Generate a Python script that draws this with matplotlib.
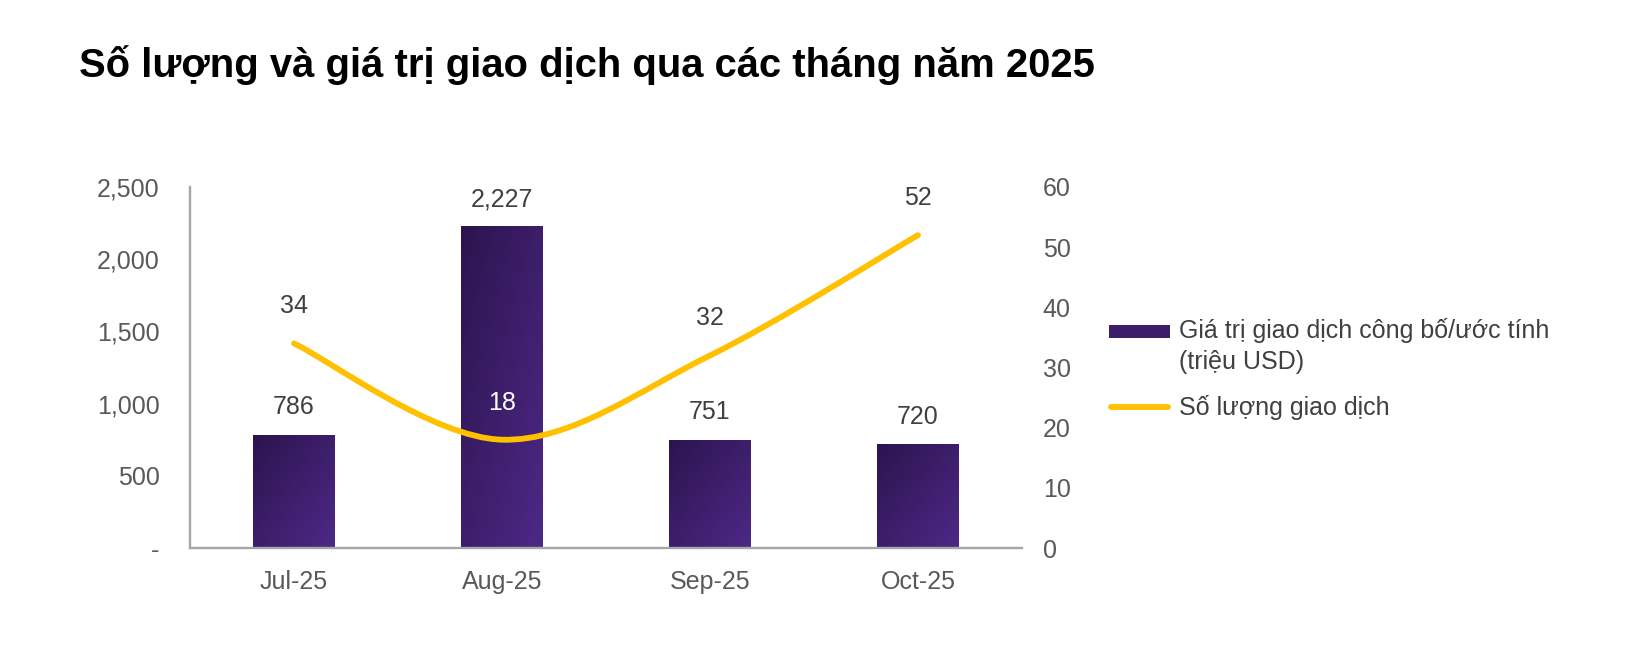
import numpy as np
import matplotlib.pyplot as plt
from matplotlib.path import Path
from matplotlib.patches import PathPatch, Rectangle
from matplotlib.lines import Line2D
from matplotlib.ticker import FuncFormatter

plt.rcParams['font.family'] = ['Liberation Sans', 'DejaVu Sans']

months = ['Jul-25', 'Aug-25', 'Sep-25', 'Oct-25']
deal_value = [786, 2227, 751, 720]      # trieu USD
deal_count = [34, 18, 32, 52]
value_ticks = [0, 500, 1000, 1500, 2000, 2500]
count_ticks = [0, 10, 20, 30, 40, 50, 60]

title = 'Số lượng và giá trị giao dịch qua các tháng năm 2025'
legend_bar = 'Giá trị giao dịch công bố/ước tính\n(triệu USD)'
legend_line = 'Số lượng giao dịch'

txt = '#404040'
tick_col = '#595959'
spine_col = '#a6a6a6'
yellow = '#FFC000'
dark_purple = np.array([44, 20, 78]) / 255
light_purple = np.array([78, 40, 135]) / 255
fs = 18

W, H = 1648, 646
fig = plt.figure(figsize=(W / 100, H / 100), dpi=100)
ax = fig.add_axes([190 / W, 1 - 548 / H, (1022 - 190) / W, (548 - 187) / H])
ax2 = ax.twinx()

x = np.arange(len(months))
bars = ax.bar(x, deal_value, width=0.394, color=light_purple, edgecolor='none', zorder=2)

# diagonal gradient fill for each bar (dark top-left -> lighter bottom-right)
gy, gx = np.mgrid[0:1:100j, 0:1:100j]   # gy = 0 at the bottom row (origin='lower')
t = (gx + (1 - gy)) / 2
grad = dark_purple[None, None, :] * (1 - t[..., None]) + light_purple[None, None, :] * t[..., None]
for b in bars:
    x0, w, h = b.get_x(), b.get_width(), b.get_height()
    im = ax.imshow(grad, extent=[x0, x0 + w, 0, h], origin='lower', aspect='auto', zorder=2.1)
    im.set_clip_path(b)

ax.set_xlim(-0.5, 3.5)
ax.set_ylim(0, 2500)
ax.set_yticks(value_ticks)
ax.yaxis.set_major_formatter(FuncFormatter(lambda v, p: '-' if v == 0 else f'{int(v):,}'))
ax.set_xticks(x)
ax.set_xticklabels(months)
ax.tick_params(axis='both', length=0, labelsize=fs, colors=tick_col)
ax.tick_params(axis='x', pad=16)
ax.tick_params(axis='y', pad=22)
for s in ['top', 'right']:
    ax.spines[s].set_visible(False)
for s in ['left', 'bottom']:
    ax.spines[s].set_color(spine_col)
    ax.spines[s].set_linewidth(1.7)

for xi, v in zip(x, deal_value):
    ax.annotate(f'{v:,}', (xi, v), xytext=(0, 11), textcoords='offset points',
                ha='center', va='bottom', fontsize=fs, color=txt)

# smoothed line (Excel-style bezier)
ax2.set_ylim(0, 60)
ax2.set_yticks(count_ticks)
ax2.tick_params(axis='y', length=0, labelsize=fs, colors=tick_col, pad=15)
for s in ax2.spines.values():
    s.set_visible(False)

pts = np.column_stack([x, deal_count]).astype(float)
ext = np.vstack([pts[0], pts, pts[-1]])
verts = [pts[0]]
codes = [Path.MOVETO]
for i in range(len(pts) - 1):
    p0, p1, p2, p3 = ext[i], ext[i + 1], ext[i + 2], ext[i + 3]
    c1 = p1 + (p2 - p0) / 6
    c2 = p2 - (p3 - p1) / 6
    verts += [c1, c2, p2]
    codes += [Path.CURVE4] * 3
ax2.add_patch(PathPatch(Path(verts, codes), facecolor='none', edgecolor=yellow,
                        lw=4.2, capstyle='round', zorder=3))

for xi, v in zip(x, deal_count):
    col = 'white' if v < 25 and deal_value[xi] > 1500 else txt
    ax2.annotate(f'{v}', (xi, v), xytext=(0, 18), textcoords='offset points',
                 ha='center', va='bottom', fontsize=fs, color=col)

# legend drawn at figure level
fig.patches.append(Rectangle((1109 / W, 1 - 338 / H), 61 / W, 13 / H,
                             transform=fig.transFigure, facecolor='#3b1d68', edgecolor='none'))
fig.text(1179 / W, 1 - 346 / H, legend_bar, ha='left', va='center', fontsize=fs,
         color=txt, linespacing=1.35)
fig.lines.append(Line2D([1111 / W, 1168 / W], [1 - 407 / H, 1 - 407 / H],
                        transform=fig.transFigure, color=yellow, lw=4.2, solid_capstyle='round'))
fig.text(1179 / W, 1 - 407 / H, legend_line, ha='left', va='center', fontsize=fs, color=txt)

fig.text(79 / W, 1 - 65 / H, title, ha='left', va='center', fontsize=28.8,
         fontweight='bold', color='black')

fig.savefig('out.png', dpi=100, facecolor='white')
